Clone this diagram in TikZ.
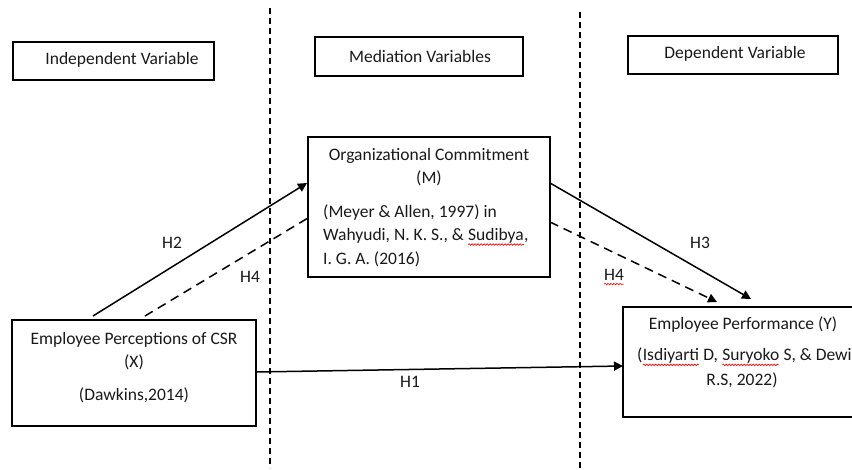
\documentclass[tikz,border=0pt]{standalone}
\usepackage{fontspec}
\setmainfont{Carlito}
\usetikzlibrary{arrows.meta,decorations.pathmorphing}
\newcommand\redwave[1]{\tikz[baseline=(w.base),x=1pt,y=1pt]{\node[inner sep=0pt,outer sep=0pt](w){#1};\draw[red,line width=0.6pt,decorate,decoration={snake,amplitude=0.8pt,segment length=3pt}] ([yshift=-4pt]w.base west) -- ([yshift=-4pt]w.base east);}}
\tikzset{
  box/.style={draw=black, line width=1.6pt},
  txt/.style={inner sep=0pt, font=\fontsize{17.5}{20}\selectfont, text=black!90},
  sep/.style={line width=1.3pt, dash pattern=on 6pt off 4pt},
  rel/.style={line width=1.5pt},
  med/.style={line width=1.5pt, dash pattern=on 9pt off 6pt},
  tip/.style={-{Triangle[width=9pt,length=9pt]}}
}
\begin{document}
\begin{tikzpicture}[x=1pt,y=-1pt]
\useasboundingbox (0,0) rectangle (852,470);
% separators
\coordinate (s1a) at (270,8); \coordinate (s1b) at (270,468);
\coordinate (s2a) at (580,12); \coordinate (s2b) at (580,468);
\draw[sep] (s1a) -- (s1b);
\draw[sep] (s2a) -- (s2b);
% headers
\node[box, minimum width=201pt, minimum height=38pt] (hiv) at (113.5,61) {};
\node[txt] (hivt) at (122,60) {Independent Variable};
\node[box, minimum width=208pt, minimum height=39pt] (hmv) at (419,56.5) {};
\node[txt] (hmvt) at (420,56) {Mediation Variables};
\node[box, minimum width=210pt, minimum height=38pt] (hdv) at (733,55) {};
\node[txt] (hdvt) at (735,54) {Dependent Variable};
% organizational commitment
\node[box, minimum width=242pt, minimum height=140pt] (oc) at (429,207) {};
\node[txt] (oc1) at (429,156) {Organizational Commitment};
\node[txt] (oc2) at (429,178) {(M)};
\node[txt, anchor=west] (oc3) at (323,213) {(Meyer \& Allen, 1997) in};
\node[txt, anchor=west] (oc4) at (323,237) {Wahyudi, N. K. S., \& \redwave{Sudibya},};
\node[txt, anchor=west] (oc5) at (323,259) {I. G. A. (2016)};
% employee perceptions
\node[box, minimum width=244pt, minimum height=106pt] (x) at (134,373) {};
\node[txt] (x1) at (134,340) {Employee Perceptions of CSR};
\node[txt] (x2) at (134,362) {(X)};
\node[txt] (x3) at (134,395) {(Dawkins,2014)};
% employee performance
\node[box, minimum width=250pt, minimum height=110pt] (y) at (748,362) {};
\node[txt] (y1) at (743,325) {Employee Performance (Y)};
\node[txt, anchor=west] (y2) at (637,357) {(\redwave{Isdiyarti} D, \redwave{Suryoko} S, \& Dewi};
\node[txt] (y3) at (742,380) {R.S, 2022)};
% connectors
\coordinate (h2s) at (93,316);
\coordinate (h2e) at (307,183);
\draw[rel, tip] (h2s) -- (h2e);
\coordinate (h4s) at (145,316);
\coordinate (h4e) at (308,218);
\draw[med] (h4s) -- (h4e);
\coordinate (h3s) at (550,183);
\coordinate (h3e) at (751,299);
\draw[rel, tip] (h3s) -- (h3e);
\coordinate (h4bs) at (550,222);
\coordinate (h4be) at (717,302);
\draw[med, tip] (h4bs) -- (h4be);
\coordinate (h1s) at (256,372);
\coordinate (h1e) at (623,366);
\draw[rel, tip] (h1s) -- (h1e);
% labels
\node[txt] (lh2) at (172,243) {H2};
\node[txt] (lh4) at (250,277) {H4};
\node[txt] (lh3) at (700,243) {H3};
\node[txt] (lh4b) at (614,277) {\redwave{H4}};
\node[txt] (lh1) at (410,382) {H1};
\end{tikzpicture}
\end{document}
